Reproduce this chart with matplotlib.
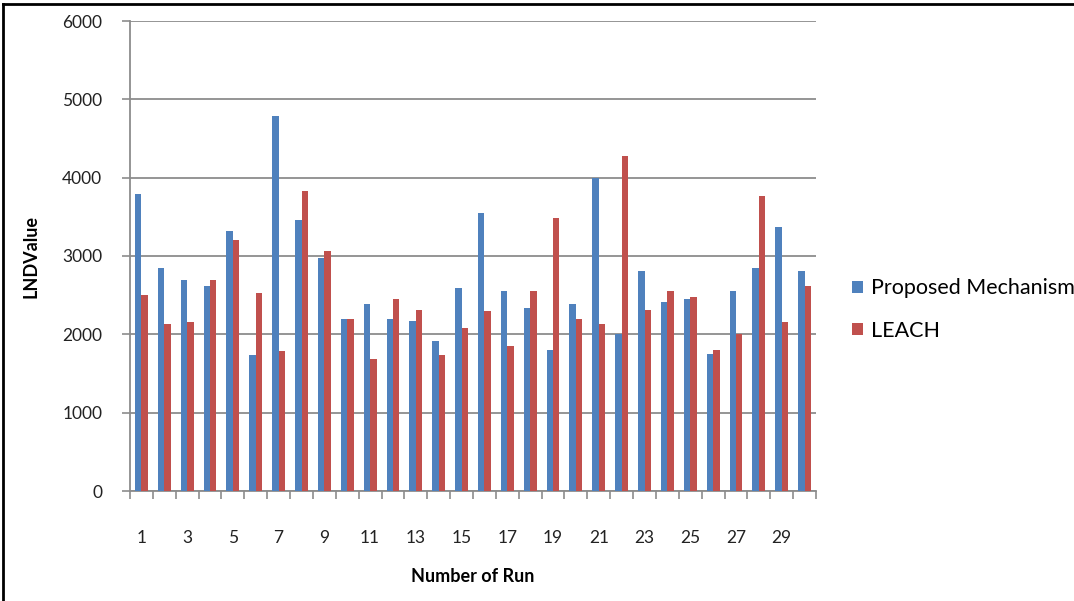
import numpy as np
import matplotlib
matplotlib.use("Agg")
import matplotlib.pyplot as plt
from matplotlib.lines import Line2D

# LND value per run for both protocols
runs = list(range(1, 31))
proposed = [3790, 2850, 2690, 2620, 3320, 1730, 4790, 3460, 2970, 2200,
            2390, 2200, 2175, 1920, 2595, 3555, 2550, 2340, 1805, 2390,
            3990, 2010, 2805, 2410, 2455, 1755, 2550, 2850, 3365, 2805]
leach = [2500, 2130, 2155, 2690, 3205, 2530, 1785, 3835, 3065, 2200,
         1690, 2455, 2315, 1730, 2080, 2295, 1850, 2550, 3485, 2200,
         2130, 4280, 2315, 2550, 2480, 1805, 2010, 3760, 2155, 2620]
series_names = ["Proposed Mechanism", "LEACH"]
yticks = [0, 1000, 2000, 3000, 4000, 5000, 6000]

blue = "#4F81BD"
red = "#C0504D"
grid_col = "#8C8C8C"

plt.rcParams['font.family'] = ['Lato', 'DejaVu Sans']

fig = plt.figure(figsize=(10.74, 6.01), dpi=100)
ax = fig.add_axes([130 / 1074, 110 / 601, 686 / 1074, 470 / 601])

x = np.arange(len(runs))
w = 0.28
ax.bar(x - w / 2, proposed, w, color=blue, label=series_names[0], zorder=3)
ax.bar(x + w / 2, leach, w, color=red, label=series_names[1], zorder=3)

ax.set_xlim(-0.5, len(runs) - 0.5)
ax.set_ylim(0, 6000)
ax.set_yticks(yticks)
ax.set_yticklabels([str(v) for v in yticks], fontsize=12.5, color='#222222')
ax.yaxis.grid(True, color=grid_col, linewidth=1.3, zorder=0)

# category boundary ticks, labels on every other run
ax.set_xticks(np.arange(len(runs) + 1) - 0.5, minor=True)
ax.set_xticks(x[::2])
ax.set_xticklabels([str(r) for r in runs[::2]], fontsize=12.5, color='#222222')
ax.tick_params(axis='x', which='major', length=0, pad=28)
ax.tick_params(axis='x', which='minor', length=6, color=grid_col, width=1.2)
ax.tick_params(axis='y', length=6, color=grid_col, width=1.2, pad=14)

for s in ['top', 'right']:
    ax.spines[s].set_visible(False)
for s in ['left', 'bottom']:
    ax.spines[s].set_color(grid_col)
    ax.spines[s].set_linewidth(1.3)

ax.set_ylabel("LNDValue", fontsize=13, fontweight='bold', labelpad=16)
ax.set_xlabel("Number of Run", fontsize=13, fontweight='bold', labelpad=16)

ax.legend(loc='center left', bbox_to_anchor=(1.04, 0.386), frameon=False,
          fontsize=15.5, handlelength=0.5, handleheight=0.5,
          handletextpad=0.4, labelspacing=1.05, borderaxespad=0)

# outer frame lines
fig.add_artist(Line2D([3 / 1074, 1], [1 - 4 / 601, 1 - 4 / 601],
                      transform=fig.transFigure, color='black', linewidth=2))
fig.add_artist(Line2D([3 / 1074, 3 / 1074], [0, 1 - 4 / 601],
                      transform=fig.transFigure, color='black', linewidth=2))

fig.savefig("out.png", dpi=100)
